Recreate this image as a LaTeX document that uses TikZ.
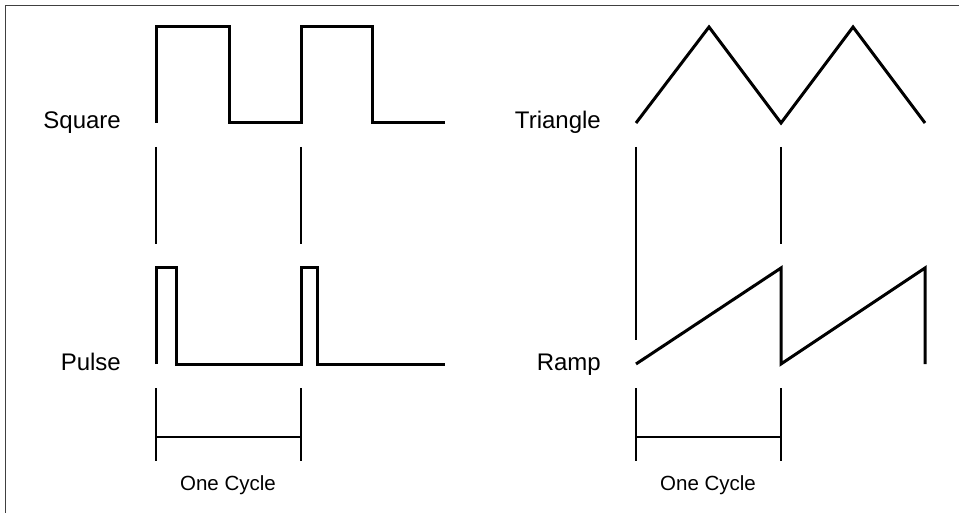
\documentclass[tikz,border=0pt]{standalone}
\usepackage{fontspec}
\setmainfont{Liberation Sans}

\begin{document}
\begin{tikzpicture}[x=1pt,y=-1pt]
		\tikzstyle{wave}=[line width=3pt]
		\tikzstyle{marker}=[line width=1.4pt]
		\tikzstyle{wavename}=[anchor=base east,inner sep=0pt,font=\fontsize{24}{28}\selectfont]
		\tikzstyle{cyclelabel}=[anchor=base,inner sep=0pt,font=\fontsize{20.5}{24}\selectfont]
		\useasboundingbox (0,0) rectangle (959,513);
		\draw[black!75,line width=1pt] (5,513) -- (5,6) -- (959,6);

		\node[wavename] (square)   at (121,129) {Square};
		\node[wavename] (triangle) at (601,129) {Triangle};
		\node[wavename] (pulse)    at (121,370) {Pulse};
		\node[wavename] (ramp)     at (601,370) {Ramp};
		\node[cyclelabel] (cycleL) at (228,490) {One Cycle};
		\node[cyclelabel] (cycleR) at (708,490) {One Cycle};

		\draw[wave] (156,123) -- (156,27) -- (229,27) -- (229,123) -- (301,123) -- (301,27) -- (372,27) -- (372,123) -- (445,123);
		\draw[wave] (636,123) -- (709,27) -- (781,123) -- (853,27) -- (925,123);
		\draw[wave] (156,364) -- (156,268) -- (176,268) -- (176,364) -- (301,364) -- (301,268) -- (317,268) -- (317,364) -- (445,364);
		\draw[wave] (636,364) -- (781,268) -- (781,364) -- (925,268) -- (925,364);

		\draw[marker] (156,147) -- (156,244);
		\draw[marker] (301,147) -- (301,244);
		\draw[marker] (636,147) -- (636,340);
		\draw[marker] (781,147) -- (781,244);

		\foreach \x in {156,636} {
			\draw[marker] (\x,388) -- (\x,461);
			\draw[marker] (\x+145,388) -- (\x+145,461);
			\draw[marker] (\x,437) -- (\x+145,437);
		}
\end{tikzpicture}
\end{document}
